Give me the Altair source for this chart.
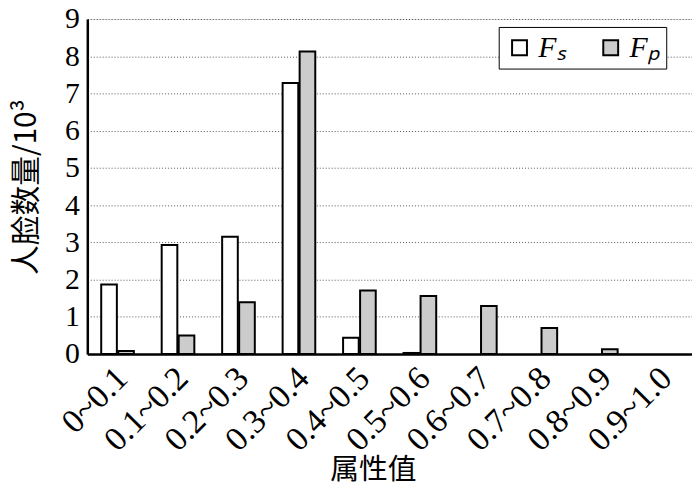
import altair as alt
import pandas as pd

categories = ["0~0.1", "0.1~0.2", "0.2~0.3", "0.3~0.4", "0.4~0.5",
              "0.5~0.6", "0.6~0.7", "0.7~0.8", "0.8~0.9", "0.9~1.0"]
fs_values = [1.87, 2.93, 3.15, 7.28, 0.44, 0.03, 0.0, 0.0, 0.0, 0.0]
fp_values = [0.08, 0.50, 1.39, 8.13, 1.71, 1.56, 1.29, 0.70, 0.13, 0.0]
series_names = ["Fₛ", "Fₚ"]

rows = []
for c, a, b in zip(categories, fs_values, fp_values):
    rows.append({"cat": c, "series": series_names[0], "value": a})
    rows.append({"cat": c, "series": series_names[1], "value": b})
df = pd.DataFrame(rows)
df = df[df["value"] > 0]

serif = "Liberation Serif"
cjk = "Noto Sans CJK SC"

chart = alt.Chart(df).mark_bar(stroke="black", strokeWidth=2).encode(
    x=alt.X("cat:N", sort=categories, title="属性值",
            scale=alt.Scale(domain=categories, paddingInner=0.46, paddingOuter=0.23),
            axis=alt.Axis(labelAngle=-45, labelAlign="right", labelBaseline="middle",
                          labelFont=serif, labelFontSize=34, labelColor="black",
                          labelPadding=19, labelOffset=5, ticks=False,
                          domainColor="black", domainWidth=2.5,
                          titleFont=cjk, titleFontSize=29, titleFontWeight="normal",
                          titleColor="black", titleX=288, titleY=117,
                          titleAlign="center", titleBaseline="middle")),
    xOffset=alt.XOffset("series:N", sort=series_names,
                        scale=alt.Scale(domain=series_names, paddingInner=0.08)),
    y=alt.Y("value:Q", title="人脸数量/10³",
            scale=alt.Scale(domain=[0, 9], nice=False),
            axis=alt.Axis(values=list(range(10)), labelFont=serif, labelFontSize=30,
                          labelColor="black", ticks=False, labelPadding=8,
                          domainColor="black", domainWidth=2.5,
                          gridColor="#555555", gridDash=[1, 2], gridWidth=1,
                          titleFont=cjk, titleFontSize=30,
                          titleFontWeight="normal", titleColor="black",
                          titleX=-61, titleAlign="center", titleBaseline="middle")),
    fill=alt.Fill("series:N", sort=series_names,
                  scale=alt.Scale(domain=series_names, range=["white", "#cccccc"]),
                  legend=alt.Legend(title=None, orient="none", legendX=415, legendY=8,
                                    direction="horizontal", symbolType="square",
                                    symbolSize=225, symbolStrokeColor="black",
                                    symbolStrokeWidth=2, labelFont=serif,
                                    labelFontSize=30, labelFontStyle="italic",
                                    labelColor="black", columnPadding=30,
                                    strokeColor="black", padding=6,
                                    fillColor="white")),
).properties(width=610, height=338,
             autosize=alt.AutoSizeParams(type="none"),
             padding={"left": 80, "top": 9, "right": 0, "bottom": 134}
).configure_view(stroke=None).configure_legend(strokeWidth=2
).configure(background="white")

chart.save("out.html", embed_options={"renderer": "svg", "actions": False})
